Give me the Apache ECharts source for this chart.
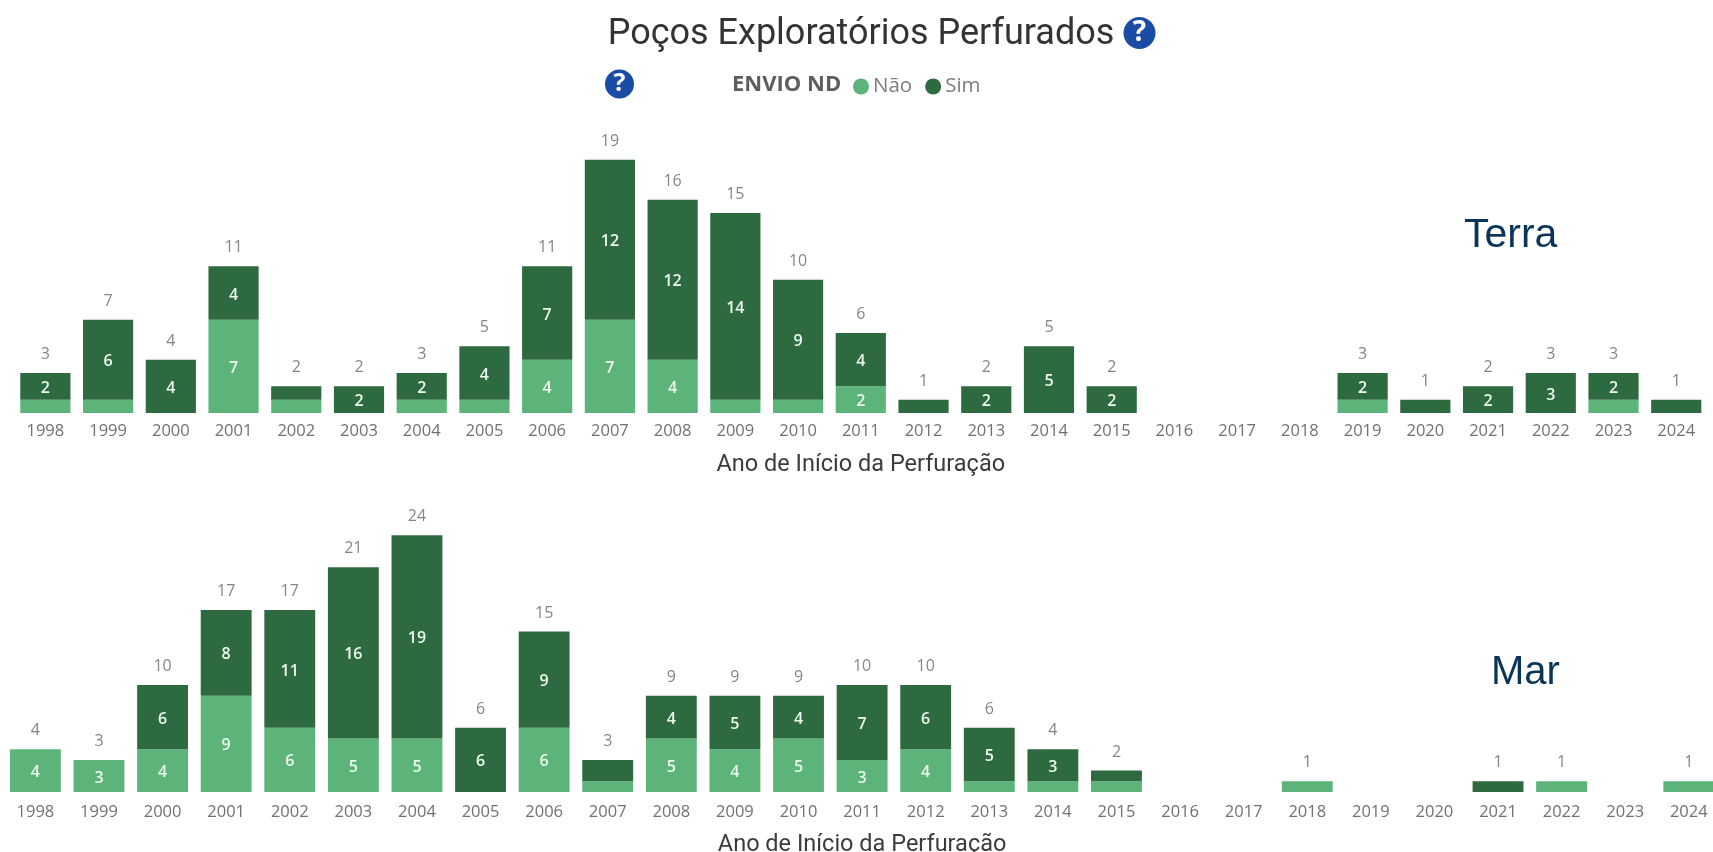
<!DOCTYPE html>
<html>
<head>
<meta charset="utf-8">
<style>html,body{margin:0;padding:0;background:#fff}#c{width:1713px;height:852px}</style>
<script src="https://cdn.jsdelivr.net/npm/echarts@6/dist/echarts.min.js"></script>
</head>
<body>
<div id="c"></div>
<script>
const years = ['1998','1999','2000','2001','2002','2003','2004','2005','2006','2007','2008','2009','2010','2011','2012','2013','2014','2015','2016','2017','2018','2019','2020','2021','2022','2023','2024'];
const terraNao = [1,1,0,7,1,0,1,1,4,7,4,1,1,2,0,0,0,0,0,0,0,1,0,0,0,1,0];
const terraSim = [2,6,4,4,1,2,2,4,7,12,12,14,9,4,1,2,5,2,0,0,0,2,1,2,3,2,1];
const marNao = [4,3,4,9,6,5,5,0,6,1,5,4,5,3,4,1,1,1,0,0,1,0,0,0,1,0,1];
const marSim = [0,0,6,8,11,16,19,6,9,2,4,5,4,7,6,5,3,1,0,0,0,0,0,1,0,0,0];

const LIGHT = '#5CB47A', DARK = '#2E6A40';
const FONT = '"Open Sans", sans-serif';
const DIN = 'Roboto, sans-serif';

const totals = (a, b) => a.map((v, i) => (v + b[i]) || null);

function stack(name, color, data, axis, minLabel) {
  return {
    type: 'bar', name, stack: 'g' + axis, xAxisIndex: axis, yAxisIndex: axis,
    data, barWidth: '80%', silent: true,
    itemStyle: { color },
    label: {
      show: true, position: 'inside', color: '#eef9f0', fontFamily: FONT, fontSize: 16, fontWeight: 600, offset: [0, 2],
      formatter: p => p.value >= minLabel ? String(p.value) : ''
    }
  };
}
function totalSeries(a, b, axis) {
  return {
    type: 'scatter', name: 'Total', xAxisIndex: axis, yAxisIndex: axis, silent: true,
    data: totals(a, b), symbolSize: 1, itemStyle: { color: 'rgba(0,0,0,0)' }, z: 5,
    label: { show: true, position: 'top', distance: 10, color: '#676767', fontFamily: FONT, fontSize: 16 }
  };
}
function xAxis(idx, gap, margin) {
  return {
    type: 'category', gridIndex: idx, data: years,
    axisLine: { show: false }, axisTick: { show: false },
    axisLabel: { color: '#707076', fontFamily: FONT, fontSize: 16.5, interval: 0, margin },
    name: 'Ano de Início da Perfuração', nameLocation: 'middle', nameGap: gap,
    nameTextStyle: { color: '#3b3b3b', fontFamily: DIN, fontSize: 23.5 }
  };
}
function helpIcon(cx, cy, r) {
  return [
    { type: 'circle', shape: { cx, cy, r }, style: { fill: '#1A4CA6' } },
    { type: 'text', x: cx, y: cy, style: { text: '?', fill: '#fff', font: 'bold ' + Math.round(r * 1.75) + 'px ' + FONT, textAlign: 'center', textVerticalAlign: 'middle' } }
  ];
}

const chart = echarts.init(document.getElementById('c'), null, { renderer: 'canvas' });
chart.setOption({
  animation: false,
  backgroundColor: '#fff',
  title: {
    text: 'Poços Exploratórios Perfurados', left: 856, top: 12, textAlign: 'center',
    textStyle: { color: '#333', fontFamily: DIN, fontSize: 36, fontWeight: 400 }
  },
  legend: {
    data: [{ name: 'Não' }, { name: 'Sim' }], left: 848, top: 71, selectedMode: false,
    icon: 'circle', itemWidth: 16, itemHeight: 16, itemGap: 13,
    textStyle: { color: '#7d7d7d', fontFamily: FONT, fontSize: 20.5, padding: [0, 0, 0, -1] }
  },
  grid: [
    { left: 14, width: 1693.6, top: 146.4, height: 266.6, outerBoundsMode: 'none' },
    { left: 3.6, width: 1717, top: 524.5, height: 267.5, outerBoundsMode: 'none' }
  ],
  xAxis: [xAxis(0, 40, 10), xAxis(1, 41, 12)],
  yAxis: [
    { type: 'value', gridIndex: 0, min: 0, max: 20, show: false },
    { type: 'value', gridIndex: 1, min: 0, max: 25, show: false }
  ],
  series: [
    stack('Não', LIGHT, terraNao, 0, 2),
    stack('Sim', DARK, terraSim, 0, 2),
    totalSeries(terraNao, terraSim, 0),
    stack('Não', LIGHT, marNao, 1, 3),
    stack('Sim', DARK, marSim, 1, 3),
    totalSeries(marNao, marSim, 1)
  ],
  graphic: [
    ...helpIcon(1139.5, 33, 16),
    ...helpIcon(619.5, 84, 14.5),
    { type: 'text', x: 732, y: 85, style: { text: 'ENVIO ND', fill: '#605E5C', font: 'bold 22px ' + FONT, textVerticalAlign: 'middle' } },
    { type: 'text', x: 1464, y: 236, style: { text: 'Terra', fill: '#0B3558', font: '41px "Liberation Sans"', textVerticalAlign: 'middle' } },
    { type: 'text', x: 1491, y: 673, style: { text: 'Mar', fill: '#0B3558', font: '40px "Liberation Sans"', textVerticalAlign: 'middle' } }
  ]
});
</script>
</body>
</html>
